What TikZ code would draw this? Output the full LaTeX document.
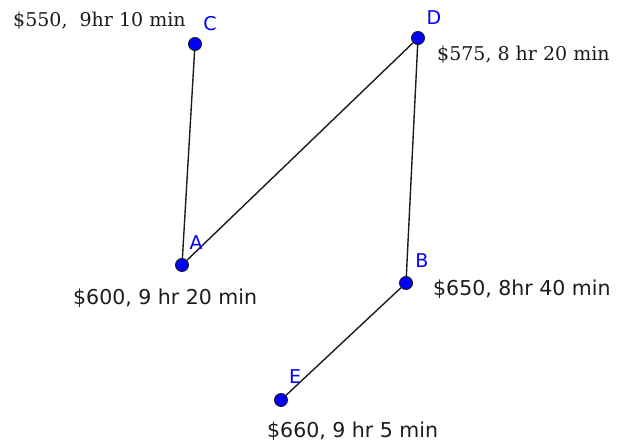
\documentclass[tikz,border=0pt]{standalone}
\usepackage{fontspec}
\setmainfont{DejaVu Serif}
\setsansfont{DejaVu Sans}
\usetikzlibrary{positioning}
\definecolor{TripBlue}{HTML}{0000FF}
\definecolor{TripInk}{HTML}{1C1C1C}
\tikzset{
  citydot/.style={
    circle,
    draw=TripInk,
    fill=TripBlue,
    line width=0.9pt,
    inner sep=0pt,
    minimum size=13pt
  },
  cityname/.style={
    text=TripBlue,
    inner sep=0pt,
    font=\sffamily\fontsize{19}{19}\selectfont
  },
  fareserif/.style={
    text=TripInk,
    anchor=base west,
    inner sep=0pt,
    font=\fontsize{19}{19}\selectfont
  },
  faresans/.style={
    text=TripInk,
    anchor=base west,
    inner sep=0pt,
    font=\sffamily\fontsize{20.5}{20.5}\selectfont
  },
  route/.style={draw=TripInk,line width=1.4pt}
}

\begin{document}
\begin{tikzpicture}[x=1pt,y=-1pt]
  \useasboundingbox (0,0) rectangle (619,447);

  % cities
  \node[citydot] (C) at (195,44) {};
  \node[citydot] (D) at (418,38) {};
  \node[citydot] (A) at (182,265) {};
  \node[citydot] (B) at (406,283) {};
  \node[citydot] (E) at (281,400) {};

  \draw[route] (C) -- (A);
  \draw[route] (A) -- (D);
  \draw[route] (D) -- (B);
  \draw[route] (B) -- (E);

  % letters
  \node[cityname] (labC) at (210,24) {C};
  \node[cityname] (labD) at (434,18) {D};
  \node[cityname] (labA) at (196,243) {A};
  \node[cityname] (labB) at (422,261) {B};
  \node[cityname] (labE) at (295,377) {E};

  % fares and times
  \node[fareserif] (fareC) at (13,27) {\$550,\ \ 9hr 10 min};
  \node[fareserif] (fareD) at (437,60) {\$575, 8 hr 20 min};
  \node[faresans] (fareA) at (73,304) {\$600, 9 hr 20 min};
  \node[faresans] (fareB) at (433,295) {\$650, 8hr 40 min};
  \node[faresans] (fareE) at (267,437) {\$660, 9 hr 5 min};
\end{tikzpicture}
\end{document}
